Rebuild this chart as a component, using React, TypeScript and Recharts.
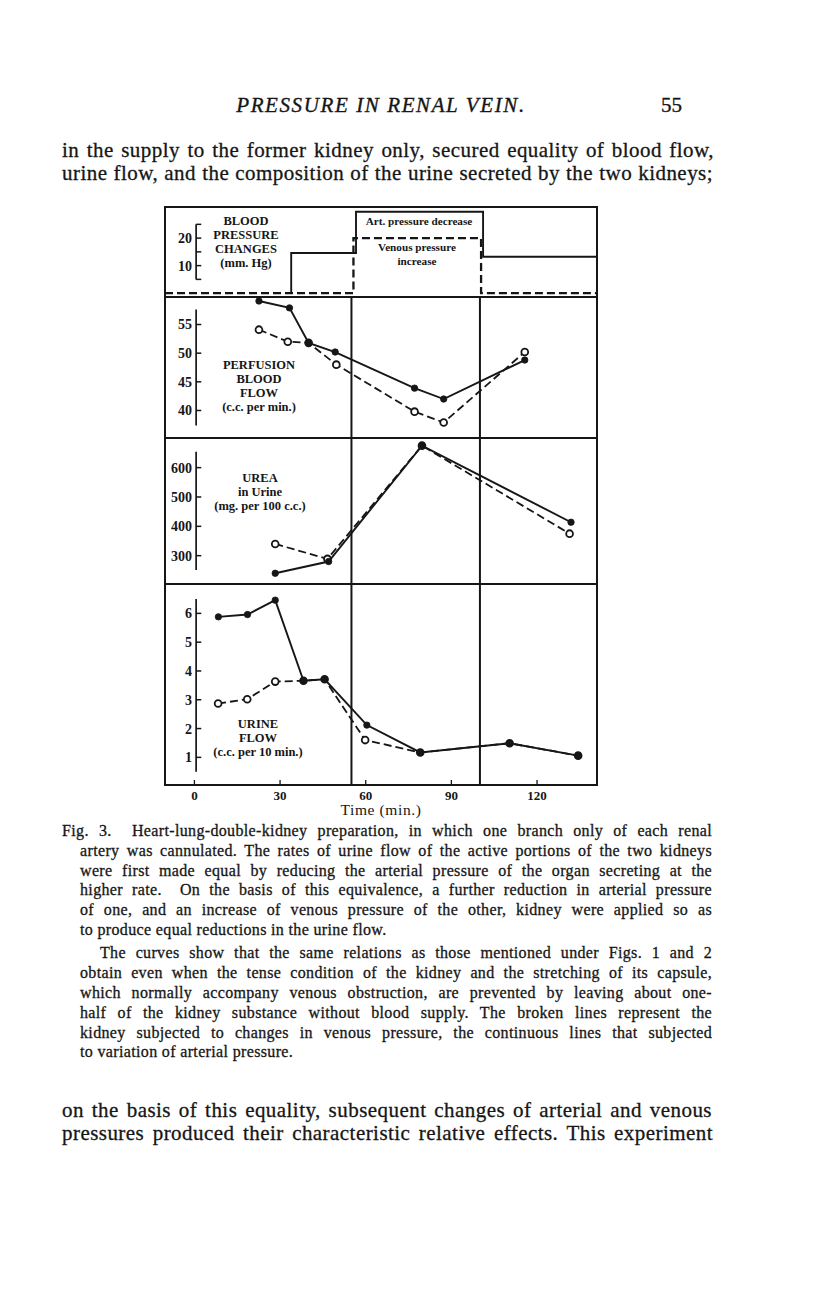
import React from 'react';
import { LineChart, Line, XAxis, YAxis, ReferenceLine } from 'recharts';

// ---------- shared axis data ----------
const X_DOMAIN: [number, number] = [-10.3, 141];
const TIME_TICKS = [0, 30, 60, 90, 120];
const PHASE_BOUNDARIES = [55, 100];

// ---------- blood pressure changes (mm Hg), step break-points ----------
const artPressureTimes = [33.9, 33.9, 56.6, 101.1, 141];
const artPressureValues = [0, 14.6, 29.6, 13.2, 13.2];
const venPressureTimes = [-10.3, 55.7, 100.4, 141];
const venPressureValues = [0, 20, 0, 0];
const bpTicks = [5, 10, 15, 20, 25];
const bpTickLabels = [10, 20];

// ---------- perfusion blood flow (c.c. per min.) ----------
const perfArtTimes = [22.6, 33.3, 40.0, 49.3, 77.1, 87.3, 115.7];
const perfArtValues = [59.1, 57.9, 51.8, 50.2, 43.9, 42.0, 48.8];
const perfVenTimes = [22.6, 32.7, 40.0, 49.7, 77.1, 87.3, 115.7];
const perfVenValues = [54.1, 52.0, 51.8, 48.0, 39.8, 37.9, 50.2];
const perfTicks = [40, 45, 50, 55];

// ---------- urea in urine (mg. per 100 c.c.) ----------
const ureaArtTimes = [28.3, 47.0, 79.7, 131.9];
const ureaArtValues = [240, 280, 675, 414];
const ureaVenTimes = [28.3, 46.6, 79.7, 131.4];
const ureaVenValues = [340, 289, 675, 375];
const ureaTicks = [300, 400, 500, 600];

// ---------- urine flow (c.c. per 10 min.) ----------
const urineArtTimes = [8.4, 18.6, 28.3, 38.2, 45.6, 60.4, 79.1, 110.4, 134.4];
const urineArtValues = [5.88, 5.96, 6.46, 3.66, 3.71, 2.12, 1.17, 1.49, 1.06];
const urineVenTimes = [8.3, 18.5, 28.3, 38.2, 45.6, 59.8, 79.1, 110.4, 134.4];
const urineVenValues = [2.87, 3.02, 3.63, 3.66, 3.71, 1.6, 1.17, 1.49, 1.06];
const urineTicks = [1, 2, 3, 4, 5, 6];

type Pt = { t: number; v: number };
const zip = (ts: number[], vs: number[]): Pt[] => ts.map((t, i) => ({ t, v: vs[i] }));

const INK = '#161616';
const SERIF = '"Liberation Serif", "Times New Roman", serif';
const SPINE_T = 0.6;
const TICK_T = 1.8;
const CHART_W = 432;

const SolidDot = (p: any) =>
  p.cx == null ? <g key={`s${p.index}`} /> : (
    <circle key={`s${p.index}`} cx={p.cx} cy={p.cy} r={3.2} fill={INK} stroke={INK} strokeWidth={0.8} />
  );
const OpenDot = (p: any) =>
  p.cx == null ? <g key={`o${p.index}`} /> : (
    <circle key={`o${p.index}`} cx={p.cx} cy={p.cy} r={3.4} fill="#fff" stroke={INK} strokeWidth={1.8} />
  );

const TimeTick = (p: any) => (
  <g>
    <line x1={p.x} x2={p.x} y1={p.y - 5} y2={p.y} stroke={INK} strokeWidth={1.3} />
    <text x={p.x} y={p.y + 15} textAnchor="middle" fontSize={13} fontWeight={700} fontFamily={SERIF} fill={INK}>
      {p.payload.value}
    </text>
  </g>
);

type PanelProps = {
  height: number;
  domain: [number, number];
  spine: [number, number];
  ticks: number[];
  labeled: number[];
  art: Pt[];
  ven: Pt[];
  step?: boolean;
  phases?: boolean;
  xAxis?: boolean;
};

function Panel({ height, domain, spine, ticks, labeled, art, ven, step, phases, xAxis }: PanelProps) {
  const axisH = xAxis ? 36 : 0;
  return (
    <LineChart width={CHART_W} height={height + axisH} margin={{ top: 0, right: 0, bottom: 0, left: 0 }}>
      <XAxis
        type="number"
        dataKey="t"
        domain={X_DOMAIN}
        allowDataOverflow
        ticks={TIME_TICKS}
        interval={0}
        hide={!xAxis}
        height={axisH}
        axisLine={false}
        tickLine={false}
        tickSize={0}
        tickMargin={0}
        tick={TimeTick}
        label={
          xAxis
            ? { value: 'Time (min.)', position: 'bottom', offset: -17, fontSize: 15.5, fill: INK, fontFamily: SERIF, letterSpacing: 0.6 }
            : undefined
        }
      />
      <YAxis type="number" dataKey="v" domain={domain} allowDataOverflow hide />
      {phases &&
        PHASE_BOUNDARIES.map((x) => <ReferenceLine key={`ph${x}`} x={x} stroke={INK} strokeWidth={2} />)}
      <ReferenceLine
        segment={[
          { x: SPINE_T, y: spine[0] },
          { x: SPINE_T, y: spine[1] },
        ]}
        stroke={INK}
        strokeWidth={1.7}
      />
      {ticks.map((v) => (
        <ReferenceLine
          key={`tk${v}`}
          segment={[
            { x: SPINE_T, y: v },
            { x: SPINE_T + TICK_T, y: v },
          ]}
          stroke={INK}
          strokeWidth={1.5}
          label={
            labeled.includes(v)
              ? { value: String(v), position: 'left', offset: 4, fontSize: 14, fontWeight: 700, fill: INK, fontFamily: SERIF }
              : undefined
          }
        />
      ))}
      <Line
        data={ven}
        dataKey="v"
        type={step ? 'stepAfter' : 'linear'}
        stroke={INK}
        strokeWidth={step ? 2.3 : 1.8}
        strokeDasharray="8 4"
        dot={step ? false : OpenDot}
        activeDot={false}
        isAnimationActive={false}
      />
      <Line
        data={art}
        dataKey="v"
        type={step ? 'stepAfter' : 'linear'}
        stroke={INK}
        strokeWidth={1.9}
        dot={step ? false : SolidDot}
        activeDot={false}
        isAnimationActive={false}
      />
    </LineChart>
  );
}

type TLine = { text: string; left: number; right: number; c: number; size: number; lh: number; ls: number; last?: boolean };

const Prose = ({ text, left, right, c, size, lh, ls, last }: TLine) => (
  <div
    style={{
      position: 'absolute',
      left,
      top: c - lh / 2,
      width: right - left,
      fontSize: size,
      lineHeight: `${lh}px`,
      letterSpacing: ls,
      textAlign: last ? 'left' : 'justify',
      textAlignLast: last ? 'left' : 'justify',
      fontFamily: SERIF,
      color: INK,
      WebkitTextStroke: '0.3px #161616',
    } as React.CSSProperties}
  >
    {text}
  </div>
);

const body = (text: string, right: number, c: number): TLine => ({ text, left: 62, right, c, size: 21, lh: 23, ls: 0.45 });
const bodyTop: TLine[] = [
  body('in the supply to the former kidney only, secured equality of blood flow,', 714, 150),
  body('urine flow, and the composition of the urine secreted by the two kidneys;', 713, 173),
];
const bodyBottom: TLine[] = [
  body('on the basis of this equality, subsequent changes of arterial and venous', 712, 1110),
  body('pressures produced their characteristic relative effects. This experiment', 713, 1133),
];
const cap = (text: string, left: number, c: number, last?: boolean): TLine => ({ text, left, right: 712, c, size: 16, lh: 20, ls: 0.35, last });
const caption: TLine[] = [
  cap('Fig. 3.\u00a0 Heart-lung-double-kidney preparation, in which one branch only of each renal', 62, 831),
  cap('artery was cannulated. The rates of urine flow of the active portions of the two kidneys', 80, 851),
  cap('were first made equal by reducing the arterial pressure of the organ secreting at the', 80, 871),
  cap('higher rate.\u00a0 On the basis of this equivalence, a further reduction in arterial pressure', 80, 890),
  cap('of one, and an increase of venous pressure of the other, kidney were applied so as', 80, 910),
  cap('to produce equal reductions in the urine flow.', 80, 930, true),
  cap('The curves show that the same relations as those mentioned under Figs. 1 and 2', 100, 953),
  cap('obtain even when the tense condition of the kidney and the stretching of its capsule,', 80, 973),
  cap('which normally accompany venous obstruction, are prevented by leaving about one-', 80, 993),
  cap('half of the kidney substance without blood supply. The broken lines represent the', 80, 1013),
  cap('kidney subjected to changes in venous pressure, the continuous lines that subjected', 80, 1033),
  cap('to variation of arterial pressure.', 80, 1052, true),
];

const labelStyle = (left: number, top: number, width: number, lh: number, size = 12.5): React.CSSProperties => ({
  position: 'absolute',
  left,
  top,
  width,
  textAlign: 'center',
  fontFamily: SERIF,
  fontWeight: 700,
  fontSize: size,
  lineHeight: `${lh}px`,
  color: INK,
  pointerEvents: 'none',
});

export default function App() {
  return (
    <div style={{ position: 'absolute', left: 0, top: 0, width: 816, height: 1296, background: '#fff', overflow: 'hidden' }}>
      {/* running head */}
      <div
        style={{
          position: 'absolute',
          left: 200,
          top: 92,
          width: 362,
          textAlign: 'center',
          fontFamily: SERIF,
          fontStyle: 'italic',
          fontSize: 21,
          lineHeight: '26px',
          letterSpacing: 1.6,
          color: INK,
          WebkitTextStroke: '0.35px #161616',
        } as React.CSSProperties}
      >
        PRESSURE IN RENAL VEIN.
      </div>
      <div
        style={{
          position: 'absolute',
          left: 640,
          top: 92,
          width: 42,
          textAlign: 'right',
          fontFamily: SERIF,
          fontSize: 21,
          lineHeight: '26px',
          color: INK,
          WebkitTextStroke: '0.35px #161616',
        } as React.CSSProperties}
      >
        55
      </div>
      {bodyTop.map((l, i) => (
        <Prose key={`bt${i}`} {...l} />
      ))}

      {/* figure */}
      <div style={{ position: 'absolute', left: 165, top: 207, width: CHART_W }}>
        <Panel
          height={90}
          domain={[-1.4, 31.3]}
          spine={[5, 25]}
          ticks={bpTicks}
          labeled={bpTickLabels}
          art={zip(artPressureTimes, artPressureValues)}
          ven={zip(venPressureTimes, venPressureValues)}
          step
        />
        <Panel
          height={141}
          domain={[35.2, 59.8]}
          spine={[37.4, 57.6]}
          ticks={perfTicks}
          labeled={perfTicks}
          art={zip(perfArtTimes, perfArtValues)}
          ven={zip(perfVenTimes, perfVenValues)}
          phases
        />
        <Panel
          height={146}
          domain={[203.5, 701]}
          spine={[251, 654]}
          ticks={ureaTicks}
          labeled={ureaTicks}
          art={zip(ureaArtTimes, ureaArtValues)}
          ven={zip(ureaVenTimes, ureaVenValues)}
          phases
        />
        <Panel
          height={201}
          domain={[0.04, 7.02]}
          spine={[0.5, 6.5]}
          ticks={urineTicks}
          labeled={urineTicks}
          art={zip(urineArtTimes, urineArtValues)}
          ven={zip(urineVenTimes, urineVenValues)}
          phases
          xAxis
        />

        {/* frame and panel dividers */}
        <div style={{ position: 'absolute', left: -1, top: -1, width: CHART_W + 2, height: 580, border: `2.4px solid ${INK}`, boxSizing: 'border-box', pointerEvents: 'none' }} />
        {[90, 231, 377].map((y) => (
          <div key={`dv${y}`} style={{ position: 'absolute', left: 0, top: y - 1, width: CHART_W, height: 2.2, background: INK }} />
        ))}

        {/* panel captions */}
        <div style={labelStyle(31, 7, 100, 14)}>
          BLOOD<br />PRESSURE<br />CHANGES<br />(mm. Hg)
        </div>
        <div style={labelStyle(189, 7, 130, 14, 11.2)}>Art. pressure decrease</div>
        <div style={labelStyle(191, 34, 122, 13.5, 11.2)}>
          Venous pressure<br />increase
        </div>
        <div style={labelStyle(44, 151, 100, 14)}>
          PERFUSION<br />BLOOD<br />FLOW<br />(c.c. per min.)
        </div>
        <div style={labelStyle(35, 264, 120, 14.2)}>
          UREA<br />in Urine<br />(mg. per 100 c.c.)
        </div>
        <div style={labelStyle(33, 511, 120, 13.9)}>
          URINE<br />FLOW<br />(c.c. per 10 min.)
        </div>
      </div>

      {caption.map((l, i) => (
        <Prose key={`cp${i}`} {...l} />
      ))}
      {bodyBottom.map((l, i) => (
        <Prose key={`bb${i}`} {...l} />
      ))}
    </div>
  );
}
